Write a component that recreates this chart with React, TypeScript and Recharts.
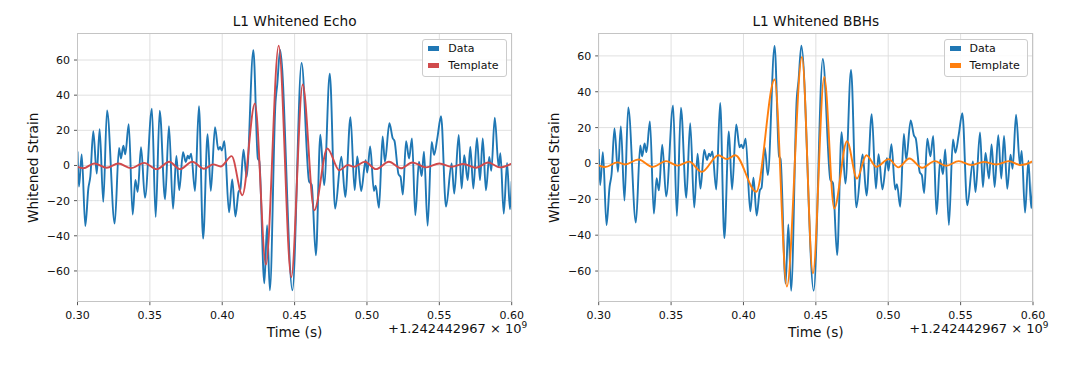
import React from 'react';
import { LineChart, Line, XAxis, YAxis, CartesianGrid } from 'recharts';

// ---- data ----
const dataTime = [
  0.3000, 0.3010, 0.3029, 0.3054, 0.3075, 0.3089, 0.3109, 0.3133, 0.3153, 0.3178,
  0.3204, 0.3257, 0.3287, 0.3300, 0.3317, 0.3330, 0.3354, 0.3381, 0.3400, 0.3416,
  0.3439, 0.3466, 0.3514, 0.3540, 0.3568, 0.3605, 0.3632, 0.3660, 0.3683, 0.3703,
  0.3729, 0.3748, 0.3762, 0.3772, 0.3785, 0.3812, 0.3839, 0.3868, 0.3899, 0.3921,
  0.3950, 0.3973, 0.3985, 0.3997, 0.4015, 0.4047, 0.4069, 0.4091, 0.4113, 0.4125,
  0.4147, 0.4168, 0.4215, 0.4246, 0.4256, 0.4291, 0.4310, 0.4329, 0.4368, 0.4380,
  0.4400, 0.4485, 0.4548, 0.4600, 0.4618, 0.4647, 0.4678, 0.4704, 0.4743, 0.4780,
  0.4823, 0.4850, 0.4886, 0.4915, 0.4933, 0.4960, 0.4991, 0.5002, 0.5022, 0.5048,
  0.5060, 0.5083, 0.5108, 0.5124, 0.5155, 0.5178, 0.5190, 0.5218, 0.5232, 0.5248,
  0.5270, 0.5291, 0.5311, 0.5334, 0.5359, 0.5378, 0.5394, 0.5419, 0.5447, 0.5464,
  0.5487, 0.5512, 0.5546, 0.5585, 0.5603, 0.5634, 0.5654, 0.5672, 0.5696, 0.5714,
  0.5735, 0.5760, 0.5781, 0.5800, 0.5822, 0.5845, 0.5859, 0.5883, 0.5910, 0.5922,
  0.5945, 0.5968, 0.5988, 0.6000,
];
const dataStrain = [
  8, -12, 6.3, -34.4, -13, -6, 19.5, -4.6, 20.7, -20.7,
  31.3, -33, 10, 4, 11.2, 6.3, 23.5, -27.9, -8.2, -15,
  10.4, -18.4, 32.3, -29.3, 31.1, -19.2, 22.4, -24.6, 5.4, -14,
  7.6, 2, 5.5, 4, 6.7, -14.5, 33.7, -41.6, 17.8, -14.5,
  21.8, 9, 10.5, 8.5, 13.8, -26.7, -8, -29, -15, -13.5,
  9, -6.5, 65.6, 4, 2.5, -67, -34, -71, 36, 46,
  65.7, -71, 58.3, -9, -11, -51.1, 17.5, -11.2, 52.2, -24.5,
  5, -17.9, 27.5, -14, 5.2, -14.5, 3, -4, 10.8, -14.5,
  -11.5, -24.1, 16.5, 2.1, 24, 15.5, 14, -5, -6.5, -16.5,
  13.8, 4, 15.4, -28.3, 2.1, -6, 7.8, -34.3, 13.4, 6,
  16, 28, -23.4, 1.1, -16, 17.3, -13.1, 5.9, -8.4, 10.6,
  -13.1, 15.7, -8.4, 15.4, -14.1, 4.9, -3, 27.2, -1, 7,
  -27.4, 1.5, -25, -9,
];

const echoTime = [
  0.3000, 0.3040, 0.3116, 0.3202, 0.3282, 0.3370, 0.3460, 0.3547, 0.3634, 0.3708,
  0.3793, 0.3874, 0.3938, 0.3989, 0.4065, 0.4139, 0.4226, 0.4302, 0.4390, 0.4477,
  0.4556, 0.4636, 0.4726, 0.4809, 0.4868, 0.4910, 0.4986, 0.5062, 0.5152, 0.5235,
  0.5313, 0.5408, 0.5500, 0.5585, 0.5666, 0.5753, 0.5838, 0.5919, 0.6000,
];
const echoStrain = [
  -0.8, -1.6, 1.1, -1.3, 1.1, -1.5, 1.5, -2.1, 2.1, -2.1,
  2.1, -1.9, 0.6, -0.6, 5.3, -16.9, 35.3, -56.4, 68.2, -63.5,
  46.1, -25.5, 9.7, -2.7, 0.3, -0.8, 2.1, -2.1, 2.1, -1.6,
  1.7, -1.1, 1.1, -0.7, 0.8, -1.3, 1.7, -1.1, 1.1,
];

const bbhTime = [
  0.3000, 0.3044, 0.3129, 0.3182, 0.3274, 0.3373, 0.3465, 0.3545, 0.3625, 0.3712,
  0.3827, 0.3885, 0.3943, 0.4088, 0.4215, 0.4300, 0.4404, 0.4480, 0.4558, 0.4627,
  0.4715, 0.4784, 0.4849, 0.4918, 0.5003, 0.5070, 0.5146, 0.5234, 0.5321, 0.5400,
  0.5487, 0.5575, 0.5660, 0.5745, 0.5833, 0.5914, 0.6000,
];
const bbhStrain = [
  -1, -2, 0.6, -0.6, 2.2, -1.9, 1.3, -1.2, 1.0, -4.7,
  4.6, 2.4, 4.6, -15.8, 46.8, -68.7, 59.4, -61.3, 48.2, -25.1,
  12.4, -8.4, 4.6, -1.9, 2.4, -2.2, 2.8, -2.4, 1.3, -1.3,
  1.3, -0.9, 0.9, -0.6, 1.3, -0.9, 1.3,
];

const xTicks = [0.3, 0.35, 0.4, 0.45, 0.5, 0.55, 0.6];
const yTicks = [-60, -40, -20, 0, 20, 40, 60];
const titles = ['L1 Whitened Echo', 'L1 Whitened BBHs'];
const seriesNames = ['Data', 'Template'];
const xLabel = 'Time (s)';
const yLabel = 'Whitened Strain';
const offsetBase = '+1.242442967 × 10';
const offsetExp = '9';

const toSeries = (ts: number[], vs: number[]) => ts.map((t, i) => ({ t, v: vs[i] }));
const dataSeries = toSeries(dataTime, dataStrain);
const echoSeries = toSeries(echoTime, echoStrain);
const bbhSeries = toSeries(bbhTime, bbhStrain);

const FONT = "'DejaVu Sans', 'Liberation Sans', sans-serif";
const BLUE = '#1f77b4';

const fmtY = (v: number) => (v < 0 ? '\u2212' + Math.abs(v) : String(v));

type PanelProps = {
  left: number;
  width: number;
  yAxisWidth: number;
  marginRight: number;
  yDomain: [number, number];
  template: { t: number; v: number }[];
  templateColor: string;
  title: string;
};

const H = 378;
const PLOT_TOP = 33.3;
const PLOT_BOTTOM = 301.7;

function Panel(p: PanelProps) {
  const plotLeft = p.yAxisWidth;
  const plotRight = p.width - p.marginRight;
  const plotW = plotRight - plotLeft;
  const cx = plotLeft + plotW / 2;
  const legendLeft = plotRight - 5 - 84.4;
  return (
    <div style={{ position: 'absolute', left: p.left, top: 0, width: p.width, height: H, fontFamily: FONT }}>
      <LineChart
        width={p.width}
        height={H}
        margin={{ top: PLOT_TOP, right: p.marginRight, bottom: H - PLOT_BOTTOM - 30, left: 0 }}
      >
        <CartesianGrid stroke="#dcdcdc" strokeWidth={0.9} horizontalValues={yTicks} verticalValues={xTicks} />
        <XAxis
          dataKey="t"
          type="number"
          domain={[0.3, 0.6]}
          ticks={xTicks}
          interval={0}
          allowDataOverflow
          height={30}
          axisLine={false}
          tickSize={3.5}
          tickMargin={5.5}
          tickLine={{ stroke: '#444', strokeWidth: 0.9 }}
          tick={{ fontSize: 11, fill: '#111', fontFamily: FONT }}
          tickFormatter={(v: number) => v.toFixed(2)}
        />
        <YAxis
          type="number"
          domain={p.yDomain}
          ticks={yTicks}
          interval={0}
          allowDataOverflow
          width={p.yAxisWidth}
          axisLine={false}
          tickSize={3.5}
          tickMargin={4}
          tickLine={{ stroke: '#444', strokeWidth: 0.9 }}
          tick={{ fontSize: 11, fill: '#111', fontFamily: FONT }}
          tickFormatter={fmtY}
        />
        <Line
          data={dataSeries}
          dataKey="v"
          type="monotone"
          stroke={BLUE}
          strokeWidth={1.9}
          dot={false}
          isAnimationActive={false}
        />
        <Line
          data={p.template}
          dataKey="v"
          type="monotone"
          stroke={p.templateColor}
          strokeWidth={1.9}
          dot={false}
          isAnimationActive={false}
        />
      </LineChart>
      {/* plot frame */}
      <div
        style={{
          position: 'absolute',
          left: plotLeft - 0.5,
          top: PLOT_TOP - 0.5,
          width: plotW + 1,
          height: PLOT_BOTTOM - PLOT_TOP + 1,
          border: '1px solid #c4c4c4',
          boxSizing: 'border-box',
          pointerEvents: 'none',
        }}
      />
      {/* title */}
      <div
        style={{
          position: 'absolute',
          left: cx - 150,
          width: 300,
          top: 15.2,
          fontSize: 13.7,
          lineHeight: '13.7px',
          textAlign: 'center',
          color: '#111',
          whiteSpace: 'nowrap',
        }}
      >
        {p.title}
      </div>
      {/* x label */}
      <div
        style={{
          position: 'absolute',
          left: cx - 100,
          width: 200,
          top: 325.5,
          fontSize: 13.7,
          lineHeight: '13.7px',
          textAlign: 'center',
          color: '#111',
          whiteSpace: 'nowrap',
        }}
      >
        {xLabel}
      </div>
      {/* offset text */}
      <div
        style={{
          position: 'absolute',
          right: p.width - (plotRight + 15.5),
          top: 322,
          fontSize: 13,
          lineHeight: '13px',
          color: '#111',
          whiteSpace: 'nowrap',
        }}
      >
        {offsetBase}
        <span style={{ fontSize: 9, position: 'relative', top: -5 }}>{offsetExp}</span>
      </div>
      {/* y label */}
      <div
        style={{
          position: 'absolute',
          left: plotLeft - 43.5 - 100,
          width: 200,
          top: (PLOT_TOP + PLOT_BOTTOM) / 2 - 6.85,
          fontSize: 13.7,
          lineHeight: '13.7px',
          textAlign: 'center',
          color: '#111',
          whiteSpace: 'nowrap',
          transform: 'rotate(-90deg)',
        }}
      >
        {yLabel}
      </div>
      {/* legend */}
      <div
        style={{
          position: 'absolute',
          left: legendLeft,
          top: 39,
          width: 84.4,
          height: 37.7,
          border: '1px solid #cccccc',
          borderRadius: 3,
          background: 'rgba(255,255,255,0.85)',
          boxSizing: 'border-box',
        }}
      >
        {[BLUE, p.templateColor].map((c, i) => (
          <React.Fragment key={i}>
            <div
              style={{
                position: 'absolute',
                left: 5,
                top: (i === 0 ? 8.5 : 25.7) - 2.5,
                width: 11,
                height: 5,
                background: c,
              }}
            />
            <div
              style={{
                position: 'absolute',
                left: 25,
                top: (i === 0 ? 8.5 : 25.7) - 5.5,
                fontSize: 11,
                lineHeight: '11px',
                color: '#111',
                whiteSpace: 'nowrap',
              }}
            >
              {seriesNames[i]}
            </div>
          </React.Fragment>
        ))}
      </div>
    </div>
  );
}

export default function App() {
  return (
    <div style={{ position: 'absolute', left: 0, top: 0, width: 1067, height: 378, background: '#ffffff', overflow: 'hidden' }}>
      <Panel
        left={0}
        width={530}
        yAxisWidth={77.5}
        marginRight={18.3}
        yDomain={[-77.5, 75.2]}
        template={echoSeries}
        templateColor="#d04a4c"
        title={titles[0]}
      />
      <Panel
        left={530}
        width={537}
        yAxisWidth={68.7}
        marginRight={34}
        yDomain={[-77.1, 72.6]}
        template={bbhSeries}
        templateColor="#ff7f0e"
        title={titles[1]}
      />
    </div>
  );
}
